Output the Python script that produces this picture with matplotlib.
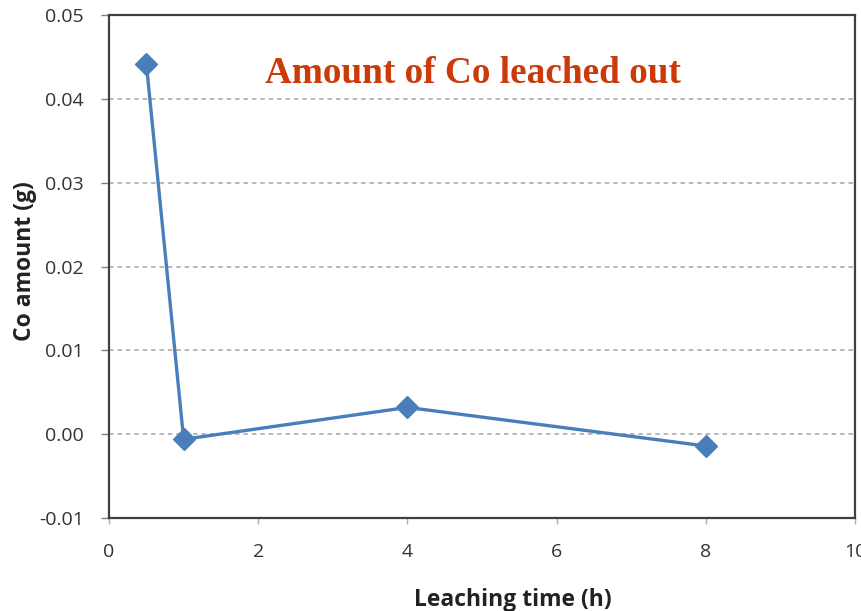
import matplotlib.pyplot as plt
import numpy as np

# leaching time (h) and cobalt amount leached out (g)
leach_time = [0.5, 1, 4, 8]
co_amount = [0.0442, -0.0006, 0.0032, -0.0014]

x_ticks = [0, 2, 4, 6, 8, 10]
y_ticks = [-0.01, 0.00, 0.01, 0.02, 0.03, 0.04, 0.05]
grid_levels = [0.00, 0.01, 0.02, 0.03, 0.04]

fig = plt.figure(figsize=(8.62, 6.11), dpi=100)
ax = fig.add_axes([0.1265, 0.152, 0.8655, 0.8235])

for g in grid_levels:
    ax.axhline(g, color='#a6a6a6', linestyle=(0, (3, 2.5)), linewidth=1.1, zorder=1)

ax.plot(leach_time, co_amount, color='#4a7ebb', linewidth=2.4, marker='D',
        markersize=11, markeredgecolor='#4a7ebb', zorder=3)

ax.set_xlim(0, 10)
ax.set_ylim(-0.01, 0.05)
ax.set_xticks(x_ticks)
ax.set_yticks(y_ticks)
ax.set_yticklabels([f'{v:.2f}' for v in y_ticks])

for s in ax.spines.values():
    s.set_color('#404040')
    s.set_linewidth(1.6)

ax.tick_params(axis='y', direction='out', length=6, width=1, color='#808080',
               pad=12, labelsize=14, labelcolor='#333333')
ax.tick_params(axis='x', direction='out', length=4, width=1, color='#b0b0b0',
               pad=14, labelsize=14, labelcolor='#333333')
for lab in ax.get_xticklabels() + ax.get_yticklabels():
    lab.set_fontfamily('Open Sans')

ax.set_xlabel('Leaching time (h)', fontsize=16.5, fontweight='bold',
              fontfamily='Open Sans', color='#222222')
ax.set_ylabel('Co amount (g)', fontsize=16.5, fontweight='bold',
              fontfamily='Open Sans', color='#222222')
ax.xaxis.set_label_coords(0.541, -0.138)
ax.yaxis.set_label_coords(-0.097, 0.51)

ax.text(0.488, 0.883, 'Amount of Co leached out', transform=ax.transAxes,
        ha='center', va='center', fontsize=26.8, fontweight='bold',
        fontfamily='Liberation Serif', color='#cc3a0a')

fig.savefig('out.png', dpi=100)
